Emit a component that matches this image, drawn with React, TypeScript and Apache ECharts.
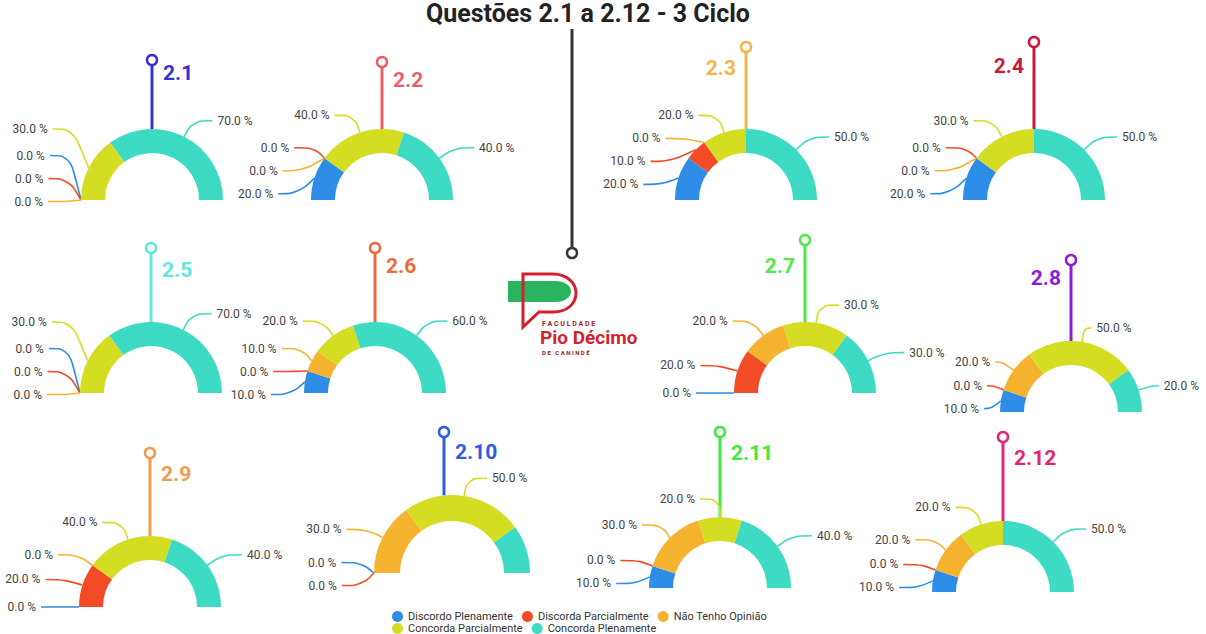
import { useEffect, useRef } from 'react';
import * as echarts from 'echarts';

const categories = [
  'Discordo Plenamente',
  'Discorda Parcialmente',
  'Não Tenho Opinião',
  'Concorda Parcialmente',
  'Concorda Plenamente',
];

const questions = ['2.1', '2.2', '2.3', '2.4', '2.5', '2.6', '2.7', '2.8', '2.9', '2.10', '2.11', '2.12'];

const q2_1 = [0, 0, 0, 30, 70];
const q2_2 = [20, 0, 0, 40, 40];
const q2_3 = [20, 10, 0, 20, 50];
const q2_4 = [20, 0, 0, 30, 50];
const q2_5 = [0, 0, 0, 30, 70];
const q2_6 = [10, 0, 10, 20, 60];
const q2_7 = [0, 20, 20, 30, 30];
const q2_8 = [10, 0, 20, 50, 20];
const q2_9 = [0, 20, 0, 40, 40];
const q2_10 = [0, 0, 30, 50, 20];
const q2_11 = [10, 0, 30, 20, 40];
const q2_12 = [10, 0, 20, 20, 50];

const values = [q2_1, q2_2, q2_3, q2_4, q2_5, q2_6, q2_7, q2_8, q2_9, q2_10, q2_11, q2_12];

const titleText = 'Questões 2.1 a 2.12 - 3 Ciclo';

// styles
const sliceColors = ['#2e8de6', '#f24b26', '#f6b32f', '#d5dd22', '#3ddbc3'];
const questionColors = [
  '#3a2fd0', '#e8606a', '#f5b44a', '#c8193c',
  '#5ee8e0', '#ef6a3a', '#4de84a', '#8a1ed8',
  '#f29a4a', '#2f5de0', '#40e840', '#e0287a',
];

// layout: donut centre, radius, stem x, ring y, label y, label side, label bottom bound, label line lengths
const layout = [
  { cx: 152, cy: 200, R: 71, sx: 152, ringY: 60, labelY: 73, side: 'right', lb: 13, l1: 18, l2: 20 },
  { cx: 382, cy: 200, R: 71, sx: 382, ringY: 62, labelY: 80, side: 'right', lb: 13, l1: 18, l2: 20 },
  { cx: 746, cy: 200, R: 71, sx: 746, ringY: 47, labelY: 68, side: 'left', lb: 13, l1: 18, l2: 20 },
  { cx: 1034, cy: 200, R: 71, sx: 1034, ringY: 42, labelY: 66, side: 'left', lb: 13, l1: 18, l2: 20 },
  { cx: 151, cy: 393, R: 71, sx: 151, ringY: 248, labelY: 270, side: 'right', lb: 13, l1: 18, l2: 20 },
  { cx: 375, cy: 393, R: 71, sx: 375, ringY: 248, labelY: 266, side: 'right', lb: 13, l1: 18, l2: 20 },
  { cx: 805, cy: 393, R: 71, sx: 805, ringY: 240, labelY: 266, side: 'left', lb: 13, l1: 18, l2: 20 },
  { cx: 1071, cy: 412, R: 71, sx: 1071, ringY: 260, labelY: 278, side: 'left', lb: 13, l1: 14, l2: 7 },
  { cx: 150, cy: 607, R: 71, sx: 150, ringY: 453, labelY: 474, side: 'right', lb: 16, l1: 18, l2: 20 },
  { cx: 452, cy: 573, R: 78, sx: 444, ringY: 432, labelY: 452, side: 'right', lb: 24, l1: 18, l2: 20 },
  { cx: 720, cy: 588, R: 71, sx: 720, ringY: 432, labelY: 453, side: 'right', lb: 16, l1: 18, l2: 20 },
  { cx: 1003, cy: 592, R: 71, sx: 1003, ringY: 437, labelY: 458, side: 'right', lb: 16, l1: 18, l2: 20 },
];
const INNER_RATIO = 47 / 71;

echarts.graphic.registerShape(
  'logoGreen',
  echarts.graphic.extendPath('M508 281 L555 281 C565 281 571 286 571 291.5 C571 297 565 302 555 302 L508 302 Z', {})
);
echarts.graphic.registerShape(
  'logoP',
  echarts.graphic.extendPath('M523 327 L523 274 L553 274 C568 274 576 284 576 293 C576 303 568 312 553 312 L539 312 Z', {})
);

export default function App() {
  const ref = useRef<HTMLDivElement>(null);
  useEffect(() => {
    if (!ref.current) return;
    const chart = echarts.init(ref.current, undefined, { renderer: 'svg' });

    const graphics: any[] = [];
    graphics.push({
      type: 'text',
      x: 588,
      y: 1,
      style: { text: titleText, font: 'bold 25px Roboto', fill: '#222', textAlign: 'center', textVerticalAlign: 'top' },
    });
    graphics.push({ type: 'line', shape: { x1: 572, y1: 29, x2: 572, y2: 248 }, style: { stroke: '#333', lineWidth: 3 } });
    graphics.push({ type: 'circle', shape: { cx: 572, cy: 253, r: 5 }, style: { fill: '#fff', stroke: '#333', lineWidth: 2.5 } });
    graphics.push({ type: 'logoGreen', x: 0, y: 0, style: { fill: '#2bb45f' } });
    graphics.push({ type: 'logoP', x: 0, y: 0, style: { fill: 'none', stroke: '#d41f2f', lineWidth: 3 } });
    graphics.push({
      type: 'text', x: 542, y: 323.5,
      style: { text: 'F A C U L D A D E', font: 'bold 7px Roboto', lineHeight: 7, fill: '#a01a2a', textVerticalAlign: 'middle' },
    });
    graphics.push({
      type: 'text', x: 540, y: 337.5,
      style: { text: 'Pio Décimo', font: 'bold 19px Roboto', lineHeight: 17, fill: '#d41f2f', textVerticalAlign: 'middle' },
    });
    graphics.push({
      type: 'text', x: 542, y: 352,
      style: { text: 'D E   C A N I N D É', font: 'bold 6px Roboto', lineHeight: 6, fill: '#8a1a2a', textVerticalAlign: 'middle' },
    });

    layout.forEach((l, i) => {
      const c = questionColors[i];
      const dx = l.sx - l.cx;
      const topY = l.cy - Math.sqrt(l.R * l.R - dx * dx);
      graphics.push({ type: 'line', shape: { x1: l.sx, y1: topY, x2: l.sx, y2: l.ringY + 5 }, style: { stroke: c, lineWidth: 3 } });
      graphics.push({ type: 'circle', shape: { cx: l.sx, cy: l.ringY, r: 5 }, style: { fill: '#fff', stroke: c, lineWidth: 2.5 } });
      graphics.push({
        type: 'text',
        x: l.side === 'right' ? l.sx + 11 : l.sx - 10,
        y: l.labelY,
        style: {
          text: questions[i],
          font: 'bold 21px Roboto',
          fill: c,
          textAlign: l.side === 'right' ? 'left' : 'right',
          textVerticalAlign: 'middle',
        },
      });
    });

    const series = layout.map((l, i) => ({
      type: 'pie',
      name: questions[i],
      left: 0,
      top: 0,
      width: 1206,
      height: l.cy + l.lb,
      center: [l.cx, l.cy],
      radius: [Math.round(l.R * INNER_RATIO), l.R],
      startAngle: 180,
      endAngle: 0,
      clockwise: true,
      avoidLabelOverlap: true,
      emphasis: { disabled: true },
      data: categories.map((name, k) => ({ name, value: values[i][k], itemStyle: { color: sliceColors[k] } })),
      label: {
        show: true,
        formatter: (p: any) => `${Number(p.value).toFixed(1)} %`,
        color: '#444',
        fontSize: 12,
        fontFamily: 'Roboto',
        lineHeight: 21,
        overflow: 'none',
      },
      labelLine: { show: true, length: l.l1, length2: l.l2, smooth: 0.4, lineStyle: { width: 1.6 } },
      itemStyle: { borderWidth: 0 },
      z: 2,
    }));

    chart.setOption({
      animation: false,
      backgroundColor: '#fff',
      color: sliceColors,
      legend: [
        {
          data: categories.slice(0, 3),
          left: 392,
          top: 611,
          icon: 'circle',
          itemWidth: 11,
          itemHeight: 11,
          itemGap: 9,
          padding: 0,
          textStyle: { fontSize: 11, color: '#333', fontFamily: 'Roboto', width: 110 },
        },
        {
          data: categories.slice(3),
          left: 392,
          top: 623,
          icon: 'circle',
          itemWidth: 11,
          itemHeight: 11,
          itemGap: 9,
          padding: 0,
          textStyle: { fontSize: 11, color: '#333', fontFamily: 'Roboto', width: 110 },
        },
      ],
      graphic: graphics,
      series,
    });
    return () => chart.dispose();
  }, []);
  return <div ref={ref} style={{ position: 'fixed', left: 0, top: 0, width: 1206, height: 634 }} />;
}
